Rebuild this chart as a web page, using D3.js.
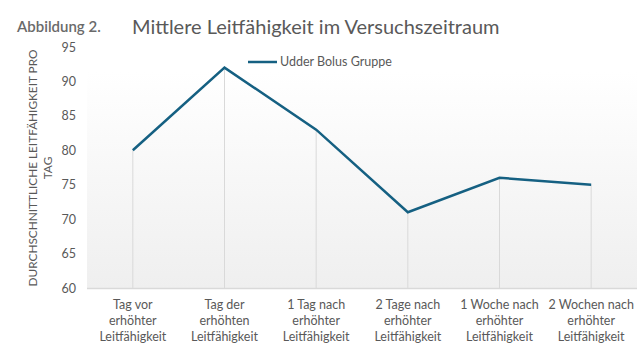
<!DOCTYPE html>
<html><head><meta charset="utf-8">
<script src="https://cdn.jsdelivr.net/npm/d3@7"></script>
<style>body{margin:0;background:#fff}svg{display:block}</style>
</head><body>
<script>
const categories = [
  ["Tag vor","erhöhter","Leitfähigkeit"],
  ["Tag der","erhöhten","Leitfähigkeit"],
  ["1 Tag nach","erhöhter","Leitfähigkeit"],
  ["2 Tage nach","erhöhter","Leitfähigkeit"],
  ["1 Woche nach","erhöhter","Leitfähigkeit"],
  ["2 Wochen nach","erhöhter","Leitfähigkeit"]
];
const values = [80, 92, 83, 71, 76, 75];
const yTicks = [60, 65, 70, 75, 80, 85, 90, 95];
const seriesName = "Udder Bolus Gruppe";

const W = 637, H = 344;
const font = "Lato, 'Open Sans', sans-serif";
const txt = "#595959";
const lineColor = "#156082";

const svg = d3.select("body").append("svg").attr("width", W).attr("height", H);
const defs = svg.append("defs");
const grad = defs.append("linearGradient").attr("id","bg").attr("x1",0).attr("y1",0).attr("x2",0).attr("y2",1);
grad.append("stop").attr("offset","0%").attr("stop-color","#ffffff");
grad.append("stop").attr("offset","100%").attr("stop-color","#efefef");

const x = d3.scaleBand().domain(d3.range(categories.length)).range([87, 637]);
const y = d3.scaleLinear().domain([60, 95]).range([288, 47]);

// plot background
svg.append("rect").attr("x", 87).attr("y", 72).attr("width", 550).attr("height", y(60) - 72).attr("fill", "url(#bg)");

// drop lines
svg.append("g").selectAll("line").data(values).join("line")
  .attr("x1", (d,i) => x(i) + x.bandwidth()/2).attr("x2", (d,i) => x(i) + x.bandwidth()/2)
  .attr("y1", d => y(d)).attr("y2", y(60))
  .attr("stroke", "#d9d9d9").attr("stroke-width", 1);

// baseline
svg.append("line").attr("x1", 87).attr("x2", 637).attr("y1", y(60)+0.5).attr("y2", y(60)+0.5)
  .attr("stroke", "#d9d9d9").attr("stroke-width", 1.5);

// y axis
const yAxis = d3.axisLeft(y).tickValues(yTicks).tickSize(0).tickPadding(0);
const ya = svg.append("g").attr("transform", "translate(76,0)").call(yAxis);
ya.select(".domain").remove();
ya.selectAll("text").attr("fill", txt).attr("font-family", font).attr("font-size", 12.5);

// x axis labels
const xa = svg.append("g");
categories.forEach((lines, i) => {
  const t = xa.append("text").attr("x", x(i) + x.bandwidth()/2).attr("y", 309)
    .attr("text-anchor", "middle").attr("fill", txt).attr("font-family", font).attr("font-size", 12.5);
  lines.forEach((l, j) => t.append("tspan").attr("x", x(i) + x.bandwidth()/2).attr("dy", j === 0 ? 0 : 16).text(l));
});

// line
const line = d3.line().x((d,i) => x(i) + x.bandwidth()/2).y(d => y(d));
svg.append("path").datum(values).attr("d", line).attr("fill", "none")
  .attr("stroke", lineColor).attr("stroke-width", 2.5).attr("stroke-linejoin", "miter");

// legend
svg.append("line").attr("x1", 248).attr("x2", 277).attr("y1", 62).attr("y2", 62)
  .attr("stroke", lineColor).attr("stroke-width", 2.5);
svg.append("text").attr("x", 280).attr("y", 66).attr("fill", txt).attr("font-family", font)
  .attr("font-size", 12.5).text(seriesName);

// y axis title
const yt = svg.append("text").attr("transform", "translate(37,168) rotate(-90)")
  .attr("text-anchor", "middle").attr("fill", txt).attr("font-family", font).attr("font-size", 11.8);
yt.append("tspan").attr("x", 0).attr("y", 0).text("DURCHSCHNITTLICHE LEITFÄHIGKEIT PRO");
yt.append("tspan").attr("x", 0).attr("y", 15).text("TAG");

// title
svg.append("text").attr("x", 17).attr("y", 32).attr("fill", "#6a6a6a").attr("font-family", font)
  .attr("font-size", 15).attr("font-weight", 600).text("Abbildung 2.");
svg.append("text").attr("x", 132).attr("y", 34).attr("fill", "#595959").attr("font-family", font)
  .attr("font-size", 20).text("Mittlere Leitfähigkeit im Versuchszeitraum");
</script>
</body></html>
